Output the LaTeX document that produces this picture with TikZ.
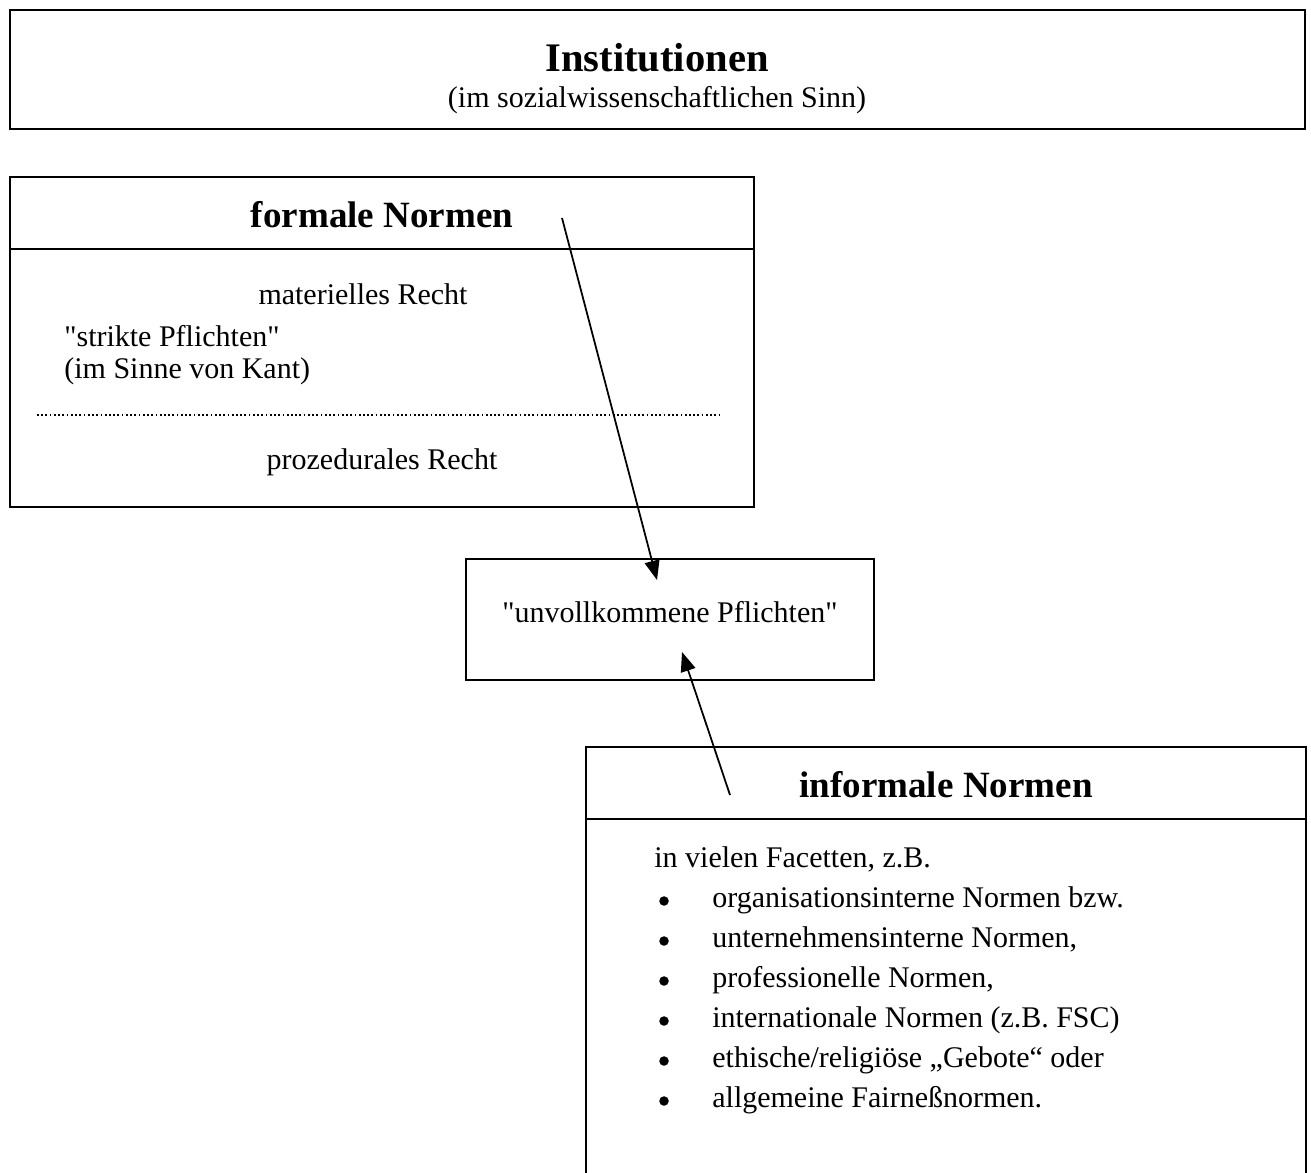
\documentclass[tikz,border=0pt]{standalone}
\usepackage{fontspec}
\setmainfont{Liberation Serif}[Ligatures=TeXOff]
\usetikzlibrary{arrows.meta,calc}
\begin{document}
\begin{tikzpicture}[x=0.5669pt,y=-0.5669pt,
  box/.style={draw, line width=1.1pt, inner sep=0pt},
  bodytext/.style={font=\fontsize{17}{20}\selectfont, inner sep=0pt},
  titletext/.style={font=\fontsize{21}{25}\selectfont\bfseries, inner sep=0pt},
  bigtitle/.style={font=\fontsize{23}{27}\selectfont\bfseries, inner sep=0pt},
  arr/.style={line width=1pt, -{Triangle[length=11pt,width=8.5pt]}},
  bulletdot/.style={circle, fill=black, inner sep=0pt, minimum size=5.4pt},
]
\useasboundingbox (0,0) rectangle (1311,1173);
\begin{scope}
\clip (0,0) rectangle (1311,1173);

% top box
\node[box, line width=1.3pt, minimum width=734.1pt, minimum height=67.5pt] (inst) at (657.5,69.5) {};
\node[bigtitle] (insttitle) at (657,58) {Institutionen};
\node[bodytext] (instsub) at (657,100) {(im sozialwissenschaftlichen Sinn)};

% formale Normen
\node[box, minimum width=421.8pt, minimum height=187.1pt] (formale) at (382,342) {};
\coordinate (fdiv) at (0,249);
\draw[line width=1.1pt] (formale.west |- fdiv) -- (formale.east |- fdiv);
\node[titletext] (formtitle) at (382,215) {formale Normen};
\node[bodytext] (materiell) at (363,294) {materielles Recht};
\node[bodytext, anchor=west] (strikt) at (64,336) {"strikte Pflichten"};
\node[bodytext, anchor=west] (kant) at (64,371) {(im Sinne von Kant)};
\coordinate (dotl) at (37,415);
\coordinate (dotr) at (720,415);
\draw[line width=1pt, dash pattern=on 1pt off 1.4pt] (dotl) -- (dotr);
\node[bodytext] (prozedural) at (382,462) {prozedurales Recht};

% unvollkommene Pflichten
\node[box, minimum width=231.3pt, minimum height=68.6pt] (unvoll) at (670,619.5) {};
\node[bodytext] (unvolltext) at (670,612) {"unvollkommene Pflichten"};

% informale Normen
\node[box, minimum width=408.2pt, minimum height=251.1pt] (informale) at (946,968.5) {};
\coordinate (idiv) at (0,819);
\draw[line width=1.1pt] (informale.west |- idiv) -- (informale.east |- idiv);
\node[titletext] (inftitle) at (946,785) {informale Normen};
\node[bodytext, anchor=base west] (facetten) at (654,867) {in vielen Facetten, z.B.};
\foreach \t [count=\i] in {organisationsinterne Normen bzw.,
  unternehmensinterne Normen{,},
  professionelle Normen{,},
  internationale Normen (z.B. FSC),
  ethische/religiöse „Gebote“ oder,
  allgemeine Fairneßnormen.}{
  \node[bodytext, anchor=base west] (item\i) at (712,867+40*\i) {\t};
  \node[bulletdot] (dot\i) at (664,861+40*\i) {};
}

% arrows
\coordinate (a1s) at (562,218);
\coordinate (a1e) at (657,580);
\draw[arr] (a1s) -- (a1e);
\coordinate (a2s) at (730,795);
\coordinate (a2e) at (682,652);
\draw[arr] (a2s) -- (a2e);
\end{scope}
\end{tikzpicture}
\end{document}
